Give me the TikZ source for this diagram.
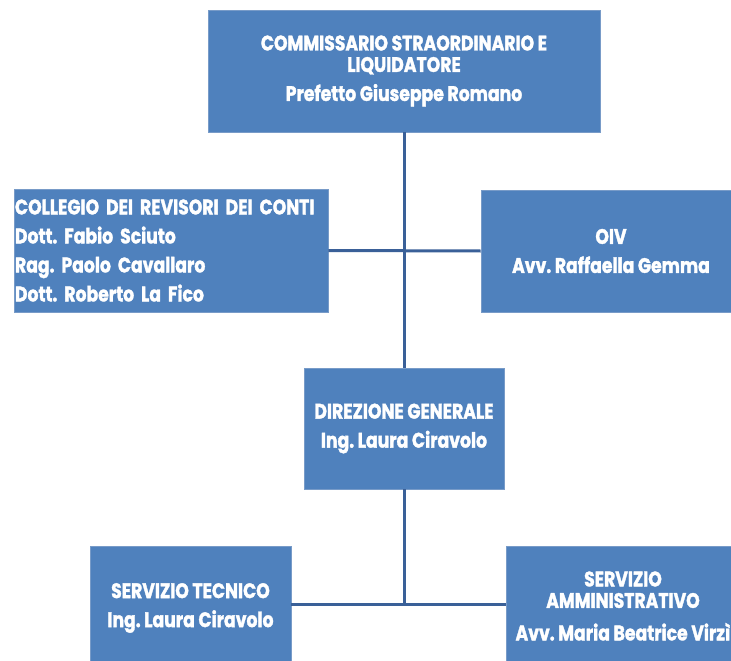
\documentclass[tikz,border=0pt]{standalone}
\usepackage{fontspec}
\setmainfont[FakeStretch=0.82,BoldFeatures={FakeBold=1.6}]{Poppins}
\usepackage{tikz}
\usetikzlibrary{positioning}
\definecolor{boxblue}{RGB}{79,129,189}
\definecolor{boxedge}{RGB}{120,155,200}
\definecolor{linkblue}{RGB}{58,96,152}
\frenchspacing

\begin{document}
\begin{tikzpicture}[x=1pt,y=-1pt,
  ufficio/.style={rectangle,draw=boxedge,line width=0.6pt,fill=boxblue,text=white,
    font=\fontsize{21}{29}\selectfont\bfseries,align=center,inner sep=1pt},
  stretto/.style={font=\fontsize{21}{21.5}\selectfont\bfseries},
  link/.style={draw=linkblue,line width=3pt}]
\useasboundingbox (0,0) rectangle (731,661);
\clip (0,0) rectangle (731,661);
\node[ufficio,stretto,minimum width=392,minimum height=122] (cs) at (404,71)
  {COMMISSARIO STRAORDINARIO E\\LIQUIDATORE\\[7.5pt]Prefetto Giuseppe Romano};
\node[ufficio,minimum width=314,minimum height=123,text width=312,align=left] (coll) at (171,250.5)
  {COLLEGIO DEI REVISORI DEI CONTI\\Dott. Fabio Sciuto\\Rag. Paolo Cavallaro\\Dott. Roberto La Fico};
\node[ufficio,minimum width=260,minimum height=122] (oiv) at (611,251)
  {OIV\\Avv. Raffaella Gemma};
\node[ufficio,minimum width=200,minimum height=121] (dg) at (404,428.5)
  {DIREZIONE GENERALE\\Ing. Laura Ciravolo};
\node[ufficio,minimum width=201,minimum height=124] (st) at (190.5,608)
  {SERVIZIO TECNICO\\Ing. Laura Ciravolo};
\node[ufficio,stretto,minimum width=234,minimum height=120] (sa) at (623,606)
  {SERVIZIO\\AMMINISTRATIVO\\[11pt]Avv. Maria Beatrice Virzì};
\coordinate (snodo) at (404,604);
\path[link]
  (cs.south) edge (dg.north)
  (coll.east) edge (oiv.west)
  (dg.south) edge (snodo)
  (st.east |- snodo) edge (sa.west |- snodo)
;
\end{tikzpicture}
\end{document}
